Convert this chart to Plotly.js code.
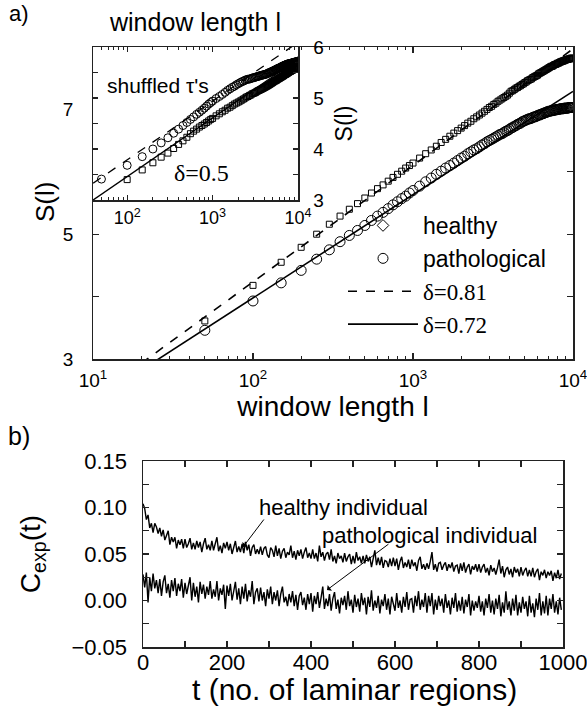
<!DOCTYPE html>
<html>
<head>
<meta charset="utf-8">
<script src="https://cdn.plot.ly/plotly-3.0.1.min.js"></script>
<style>html,body{margin:0;padding:0;background:#fff}#chart{width:587px;height:713px}</style>
</head>
<body>
<div id="chart"></div>
<script>
// ---------- DATA ----------
// window lengths l (panel a, main and inset)
const windowLength = [50,100,150,200,250,300,350,400,450,500,550,600,650,700,750,800,850,900,950,1000,
1100,1200,1300,1400,1500,1600,1700,1800,1900,2000,2100,2200,2300,2400,2500,2600,2700,2800,2900,3000,
3100,3200,3300,3400,3500,3600,3700,3800,3900,4000,4100,4200,4300,4400,4500,4600,4700,4800,4900,5000,
5100,5200,5300,5400,5500,5600,5700,5800,5900,6000,6100,6200,6300,6400,6500,6600,6700,6800,6900,7000,
7100,7200,7300,7400,7500,7600,7700,7800,7900,8000,8100,8200,8300,8400,8500,8600,8700,8800,8900,9000,
9100,9200,9300,9400,9500,9600,9700,9800,9900,10000];

// main panel: S(l)
const sHealthy = [3.61,4.18,4.55,4.79,5.00,5.16,5.29,5.40,5.49,5.58,5.66,5.73,5.79,5.85,5.91,5.96,6.01,6.06,6.10,6.14,
6.22,6.29,6.35,6.41,6.47,6.52,6.57,6.62,6.66,6.70,6.74,6.78,6.81,6.85,6.88,6.91,6.94,6.97,7.00,7.03,
7.05,7.08,7.10,7.13,7.15,7.17,7.19,7.21,7.23,7.26,7.29,7.30,7.32,7.34,7.35,7.37,7.38,7.40,7.41,7.43,
7.44,7.46,7.47,7.48,7.49,7.51,7.52,7.53,7.54,7.55,7.57,7.58,7.59,7.60,7.61,7.62,7.63,7.64,7.65,7.66,
7.67,7.68,7.69,7.69,7.70,7.71,7.72,7.72,7.73,7.74,7.74,7.75,7.76,7.76,7.77,7.77,7.78,7.78,7.79,7.79,
7.80,7.80,7.80,7.81,7.81,7.81,7.82,7.82,7.82,7.82];
const sPathological = [3.46,3.93,4.22,4.42,4.60,4.75,4.88,4.98,5.06,5.14,5.22,5.29,5.35,5.41,5.47,5.52,5.57,5.61,5.66,5.70,
5.77,5.84,5.90,5.96,6.01,6.06,6.10,6.14,6.18,6.22,6.25,6.29,6.32,6.35,6.37,6.40,6.43,6.45,6.48,6.50,
6.52,6.54,6.56,6.58,6.60,6.61,6.63,6.65,6.66,6.68,6.70,6.71,6.73,6.74,6.76,6.77,6.78,6.80,6.81,6.82,
6.83,6.84,6.85,6.85,6.86,6.87,6.88,6.88,6.89,6.90,6.91,6.91,6.92,6.93,6.93,6.94,6.95,6.95,6.96,6.97,
6.97,6.97,6.98,6.98,6.98,6.99,6.99,6.99,7.00,7.00,7.00,7.00,7.01,7.01,7.01,7.01,7.01,7.02,7.02,7.02,
7.02,7.02,7.02,7.03,7.03,7.03,7.03,7.03,7.03,7.03];

// inset: shuffled tau's
const sShuffledCircles = [3.41,3.68,3.85,4.00,4.12,4.22,4.31,4.39,4.46,4.52,4.58,4.63,4.68,4.72,4.76,4.80,4.84,4.88,4.91,4.94,
4.99,5.03,5.07,5.11,5.15,5.18,5.21,5.23,5.26,5.28,5.30,5.32,5.33,5.35,5.36,5.37,5.37,5.38,5.39,5.40,
5.40,5.41,5.42,5.42,5.43,5.44,5.44,5.45,5.45,5.46,5.46,5.47,5.47,5.48,5.49,5.50,5.50,5.51,5.52,5.52,
5.53,5.54,5.54,5.55,5.56,5.56,5.57,5.58,5.58,5.59,5.59,5.60,5.60,5.61,5.62,5.62,5.63,5.63,5.64,5.64,
5.65,5.65,5.65,5.66,5.66,5.67,5.67,5.67,5.67,5.67,5.68,5.68,5.68,5.68,5.69,5.69,5.69,5.69,5.70,5.70,
5.70,5.70,5.70,5.71,5.71,5.71,5.71,5.72,5.72,5.72];
const sShuffledSquares = [null,3.40,3.59,3.73,3.84,3.92,4.01,4.09,4.16,4.23,4.30,4.35,4.39,4.43,4.46,4.49,4.52,4.55,4.58,4.60,
4.65,4.69,4.73,4.76,4.80,4.82,4.85,4.88,4.90,4.92,4.94,4.96,4.98,5.00,5.02,5.03,5.05,5.06,5.08,5.09,
5.10,5.11,5.13,5.14,5.15,5.16,5.17,5.18,5.19,5.20,5.21,5.22,5.23,5.24,5.25,5.26,5.27,5.28,5.29,5.30,
5.31,5.32,5.33,5.34,5.34,5.35,5.36,5.37,5.38,5.38,5.39,5.40,5.41,5.41,5.42,5.43,5.43,5.44,5.45,5.46,
5.46,5.47,5.47,5.48,5.49,5.49,5.50,5.51,5.51,5.52,5.52,5.53,5.53,5.54,5.54,5.55,5.55,5.56,5.56,5.56,
5.57,5.57,5.58,5.58,5.58,5.59,5.59,5.59,5.60,5.60];

// fitted power-law lines (end points)
const fitMainX = [20, 10000];
const fitHealthyY = [2.93, 7.97];      // delta = 0.81
const fitPathoY = [2.82, 7.29];        // delta = 0.72
const fitInsetX = [40, 10000];
const fitInsetUpperY = [3.33, 6.09];   // delta = 0.5
const fitInsetLowerY = [3.00, 5.76];   // delta = 0.5

// panel b: C_exp(t), t = 0,4,8,...,996
const tStart = 0, tStep = 4;
const cHealthy = [0.104,0.099,0.087,0.092,0.078,0.083,0.073,0.083,0.079,0.072,
0.078,0.069,0.076,0.065,0.070,0.075,0.060,0.068,0.063,0.068,
0.056,0.065,0.060,0.066,0.056,0.066,0.057,0.061,0.067,0.055,
0.062,0.055,0.064,0.057,0.063,0.052,0.061,0.067,0.055,0.060,
0.054,0.064,0.054,0.062,0.068,0.053,0.059,0.051,0.062,0.056,
0.063,0.054,0.061,0.050,0.058,0.064,0.052,0.058,0.052,0.061,
0.051,0.063,0.054,0.060,0.048,0.057,0.060,0.050,0.055,0.050,
0.058,0.049,0.056,0.058,0.049,0.046,0.057,0.054,0.047,0.059,
0.048,0.056,0.045,0.053,0.056,0.046,0.052,0.049,0.059,0.046,
0.053,0.044,0.054,0.048,0.055,0.045,0.052,0.057,0.046,0.051,
0.045,0.055,0.045,0.051,0.042,0.059,0.047,0.052,0.043,0.050,
0.052,0.044,0.055,0.042,0.048,0.040,0.051,0.045,0.048,0.041,
0.051,0.042,0.047,0.050,0.039,0.048,0.040,0.052,0.043,0.047,
0.040,0.048,0.040,0.049,0.042,0.047,0.036,0.045,0.054,0.038,
0.046,0.038,0.047,0.035,0.043,0.042,0.036,0.045,0.037,0.046,
0.037,0.045,0.033,0.042,0.047,0.035,0.041,0.036,0.044,0.034,
0.044,0.037,0.041,0.032,0.043,0.047,0.034,0.039,0.033,0.040,
0.034,0.042,0.052,0.033,0.039,0.031,0.040,0.041,0.033,0.038,
0.041,0.032,0.039,0.035,0.041,0.031,0.037,0.038,0.029,0.040,
0.032,0.041,0.030,0.036,0.039,0.028,0.037,0.033,0.039,0.031,
0.039,0.030,0.036,0.039,0.030,0.035,0.027,0.038,0.031,0.035,
0.028,0.035,0.044,0.029,0.037,0.025,0.033,0.036,0.028,0.034,
0.025,0.036,0.030,0.034,0.026,0.036,0.027,0.032,0.035,0.026,
0.033,0.026,0.035,0.025,0.031,0.034,0.022,0.031,0.027,0.033,
0.024,0.031,0.027,0.032,0.021,0.030,0.024,0.033,0.023,0.029];
const cPathological = [0.028,0.014,0.030,-0.002,0.025,0.010,0.029,0.013,0.022,0.008,
0.023,0.005,0.020,0.027,0.008,0.018,0.003,0.022,0.010,0.024,
0.005,0.018,0.010,0.023,0.003,0.019,0.007,0.016,0.025,0.000,
0.019,0.004,0.015,-0.002,0.020,0.007,0.017,0.002,0.015,0.006,
0.021,0.002,0.012,0.004,0.021,0.000,0.013,0.006,0.017,-0.009,
0.016,0.005,0.018,0.000,0.011,0.020,0.001,0.013,-0.004,0.015,
0.002,0.018,-0.001,0.011,0.004,0.021,-0.004,0.009,0.013,-0.001,
0.014,0.000,0.009,-0.006,0.012,0.002,0.015,-0.004,0.009,0.000,
0.011,-0.006,0.007,0.015,-0.002,0.004,-0.006,0.007,-0.002,0.010,
-0.006,0.006,-0.010,0.005,0.009,-0.005,0.003,-0.010,0.007,-0.004,
0.008,-0.012,0.005,-0.004,0.009,-0.008,0.003,0.015,-0.009,0.002,
-0.006,0.007,-0.011,0.002,0.009,-0.009,0.001,-0.014,0.003,-0.005,
0.005,-0.010,0.010,-0.006,0.001,-0.013,0.006,-0.007,0.002,-0.012,
0.008,-0.005,0.003,-0.015,0.004,-0.007,0.011,-0.011,0.000,-0.008,
0.005,-0.014,0.001,-0.006,0.007,-0.010,0.002,-0.015,0.004,-0.004,
-0.011,0.008,-0.008,0.000,-0.013,0.004,-0.007,0.009,-0.010,0.001,
0.002,-0.013,0.005,-0.006,0.010,-0.010,0.001,-0.007,0.008,-0.013,
0.005,-0.006,0.008,-0.015,0.001,-0.010,0.005,-0.006,0.002,-0.013,
0.007,-0.008,0.000,-0.015,0.003,-0.008,0.008,-0.012,0.000,-0.011,
0.004,-0.014,0.001,-0.007,0.007,-0.016,0.000,-0.011,-0.001,-0.008,
0.005,-0.012,-0.001,-0.016,0.002,-0.008,0.007,-0.013,0.000,-0.015,
0.002,-0.009,0.006,-0.017,-0.002,-0.013,0.010,-0.010,-0.001,-0.016,
0.002,-0.011,0.006,-0.016,-0.002,-0.013,0.004,-0.009,-0.001,-0.017,
0.005,-0.013,-0.003,-0.018,0.002,-0.010,0.008,-0.016,-0.001,-0.014,
0.005,-0.016,0.002,-0.009,0.007,-0.013,-0.001,-0.015,0.003,-0.010];

// tick labels
const mainDecades = [10, 100, 1000, 10000];
const mainDecadeText = ['10<sup>1</sup>', '10<sup>2</sup>', '10<sup>3</sup>', '10<sup>4</sup>'];
const insetDecades = [100, 1000, 10000];
const insetDecadeText = ['10<sup>2</sup>', '10<sup>3</sup>', '10<sup>4</sup>'];
const insetYTicks = [3, 3.5, 4, 4.5, 5, 5.5, 6];
const insetYText = ['3', '', '4', '', '5', '', '6'];

// ---------- STYLE / LAYOUT ----------
const W = 587, H = 713;
const SANS = 'Liberation Sans, Arial, Helvetica, sans-serif';
const SERIF = 'Liberation Serif, Times New Roman, serif';
function minorLogTicks(fromDecade, toDecade, startMult) {
  const v = [];
  for (let d = fromDecade; d < toDecade; d++) {
    for (let m = (d === fromDecade ? startMult : 2); m <= 9; m++) v.push(m * Math.pow(10, d));
  }
  return v;
}
const px = x => x / W;
const py = y => 1 - y / H;
const baseAxis = {
  showline: true, linecolor: '#222', linewidth: 1.5, mirror: 'ticks',
  ticks: 'inside', tickcolor: '#222', tickwidth: 1.2, ticklen: 6,
  showgrid: false, zeroline: false, automargin: false, ticklabeloverflow: 'allow',
  tickfont: {family: SANS, size: 19, color: '#000'}
};

const traces = [
  // main fits
  {x: fitMainX, y: fitHealthyY, xaxis: 'x', yaxis: 'y', mode: 'lines', name: '<span style="font-family:Liberation Serif">δ=0.81</span>',
   line: {color: '#000', width: 1.6, dash: 'dash'}, legendrank: 3},
  {x: fitMainX, y: fitPathoY, xaxis: 'x', yaxis: 'y', mode: 'lines', name: '<span style="font-family:Liberation Serif">δ=0.72</span>',
   line: {color: '#000', width: 1.6}, legendrank: 4},
  // main data
  {x: windowLength, y: sHealthy, xaxis: 'x', yaxis: 'y', mode: 'markers', showlegend: false,
   marker: {symbol: 'square-open', size: 6, color: '#000', line: {width: 1}}},
  {x: windowLength, y: sPathological, xaxis: 'x', yaxis: 'y', mode: 'markers', name: 'pathological', legendrank: 2,
   marker: {symbol: 'circle-open', size: 10, color: '#000', line: {width: 1}}},
  // legend sample for healthy
  {x: [null], y: [null], xaxis: 'x', yaxis: 'y', mode: 'markers', name: 'healthy', legendrank: 1,
   marker: {symbol: 'diamond-open', size: 9, color: '#000', line: {width: 1}}},
  // inset fits
  {x: fitInsetX, y: fitInsetUpperY, xaxis: 'x2', yaxis: 'y2', mode: 'lines', showlegend: false,
   line: {color: '#000', width: 1.3, dash: 'dash'}},
  {x: fitInsetX, y: fitInsetLowerY, xaxis: 'x2', yaxis: 'y2', mode: 'lines', showlegend: false,
   line: {color: '#000', width: 1.3}},
  // inset data
  {x: windowLength, y: sShuffledCircles, xaxis: 'x2', yaxis: 'y2', mode: 'markers', showlegend: false,
   marker: {symbol: 'circle-open', size: 8, color: '#000', line: {width: 1}}},
  {x: windowLength, y: sShuffledSquares, xaxis: 'x2', yaxis: 'y2', mode: 'markers', showlegend: false,
   marker: {symbol: 'square-open', size: 6, color: '#000', line: {width: 1}}},
  // panel b
  {y: cHealthy, x0: tStart, dx: tStep, xaxis: 'x3', yaxis: 'y3', mode: 'lines', showlegend: false,
   line: {color: '#000', width: 1.4}},
  {y: cPathological, x0: tStart, dx: tStep, xaxis: 'x3', yaxis: 'y3', mode: 'lines', showlegend: false,
   line: {color: '#000', width: 1.4}}
];

const layout = {
  width: W, height: H,
  margin: {l: 0, r: 0, t: 0, b: 0},
  paper_bgcolor: '#fff', plot_bgcolor: '#fff',
  font: {family: SANS, color: '#000'},
  showlegend: true,
  legend: {x: px(343), y: py(204), xanchor: 'left', yanchor: 'top',
           font: {family: SANS, size: 23, color: '#000'}, itemwidth: 70,
           bgcolor: 'rgba(0,0,0,0)', borderwidth: 0, tracegroupgap: 0},
  xaxis: Object.assign({}, baseAxis, {
    type: 'log', domain: [px(93), px(573)], anchor: 'y', range: [1, 4],
    tickmode: 'array', tickvals: mainDecades, ticktext: mainDecadeText, ticklabelstandoff: 4,
    minor: {tickmode: 'array', tickvals: minorLogTicks(1, 4, 2), ticks: 'inside', ticklen: 3, tickcolor: '#222', tickwidth: 1},
    title: {text: 'window length l', font: {family: SANS, size: 28}, standoff: 0}
  }),
  yaxis: Object.assign({}, baseAxis, {
    domain: [py(359), py(47)], anchor: 'x', range: [3, 8],
    tickmode: 'linear', tick0: 3, dtick: 2, ticksuffix: '\u00a0\u00a0\u2009',
    minor: {dtick: 1, tick0: 3, ticks: 'inside', ticklen: 6, tickcolor: '#222', tickwidth: 1.2}
  }),
  xaxis2: Object.assign({}, baseAxis, {
    type: 'log', domain: [px(93), px(298)], anchor: 'y2', range: [1.6, 4],
    tickmode: 'array', tickvals: insetDecades, ticktext: insetDecadeText, ticklabelstandoff: 1,
    tickfont: {family: SANS, size: 18, color: '#000'}, ticklen: 5,
    minor: {tickmode: 'array', tickvals: minorLogTicks(1, 4, 5), ticks: 'inside', ticklen: 3, tickcolor: '#222', tickwidth: 1}
  }),
  yaxis2: Object.assign({}, baseAxis, {
    domain: [py(200), py(47)], anchor: 'x2', side: 'right', range: [3, 6], ticklen: 5,
    tickmode: 'array', tickvals: insetYTicks, ticktext: insetYText, ticklabelstandoff: 10,
    title: {text: 'S(l)', font: {family: SANS, size: 23}, standoff: 12}
  }),
  xaxis3: Object.assign({}, baseAxis, {
    domain: [px(143), px(563)], anchor: 'y3', range: [0, 1000],
    tickmode: 'linear', tick0: 0, dtick: 200, ticklabelstandoff: -5,
    tickfont: {family: SANS, size: 22, color: '#000'},
    minor: {dtick: 100, ticks: 'inside', ticklen: 6, tickcolor: '#222', tickwidth: 1.2}
  }),
  yaxis3: Object.assign({}, baseAxis, {
    domain: [py(647), py(461)], anchor: 'x3', range: [-0.05, 0.15],
    tickmode: 'linear', tick0: 0, dtick: 0.05, tickformat: '.2f', ticklabelstandoff: 10,
    tickfont: {family: SANS, size: 22, color: '#000'},
    minor: {dtick: 0.025, ticks: 'inside', ticklen: 6, tickcolor: '#222', tickwidth: 1.2},
    title: {text: 'C<sub>exp</sub>(t)', font: {family: SANS, size: 28}, standoff: 22}
  }),
  annotations: [
    {xref: 'paper', yref: 'paper', x: px(7), y: py(14), xanchor: 'left', yanchor: 'middle', showarrow: false,
     text: 'a)', font: {family: SANS, size: 22}},
    {xref: 'paper', yref: 'paper', x: px(6), y: py(436), xanchor: 'left', yanchor: 'middle', showarrow: false,
     text: 'b)', font: {family: SANS, size: 25}},
    // main y-axis title
    {xref: 'paper', yref: 'paper', x: px(45), y: py(202), xanchor: 'center', yanchor: 'middle', showarrow: false,
     textangle: -90, text: 'S(l)', font: {family: SANS, size: 26}},
    // panel b x-axis title
    {xref: 'paper', yref: 'paper', x: px(354), y: py(689), xanchor: 'center', yanchor: 'middle', showarrow: false,
     text: 't (no. of laminar regions)', font: {family: SANS, size: 30}},
    // inset x-axis title (drawn above the inset)
    {xref: 'paper', yref: 'paper', x: px(195), y: py(22), xanchor: 'center', yanchor: 'middle', showarrow: false,
     text: 'window length l', font: {family: SANS, size: 25}},
    {xref: 'paper', yref: 'paper', x: px(105), y: py(85), xanchor: 'left', yanchor: 'middle', showarrow: false,
     text: 'shuffled τ\'s', font: {family: SANS, size: 21}},
    {xref: 'paper', yref: 'paper', x: px(172), y: py(173), xanchor: 'left', yanchor: 'middle', showarrow: false,
     text: 'δ=0.5', font: {family: SERIF, size: 24}},
    {xref: 'x3', yref: 'y3', x: 477, y: 0.0995, xanchor: 'center', yanchor: 'middle', showarrow: false,
     text: 'healthy individual', font: {family: SANS, size: 22}},
    {xref: 'x3', yref: 'y3', x: 682, y: 0.0704, xanchor: 'center', yanchor: 'middle', showarrow: false,
     text: 'pathological individual', font: {family: SANS, size: 22}},
    {xref: 'x3', yref: 'y3', x: 238, y: 0.0575, axref: 'x3', ayref: 'y3', ax: 290.5, ay: 0.0887,
     text: '', showarrow: true, arrowhead: 1, arrowsize: 1.2, arrowwidth: 1, arrowcolor: '#000', standoff: 0, startstandoff: 0},
    {xref: 'x3', yref: 'y3', x: 438, y: 0.0113, axref: 'x3', ayref: 'y3', ax: 588, ay: 0.0618,
     text: '', showarrow: true, arrowhead: 1, arrowsize: 1.2, arrowwidth: 1, arrowcolor: '#000', standoff: 0, startstandoff: 0}
  ]
};

Plotly.newPlot('chart', traces, layout, {staticPlot: true, displayModeBar: false});
</script>
</body>
</html>
